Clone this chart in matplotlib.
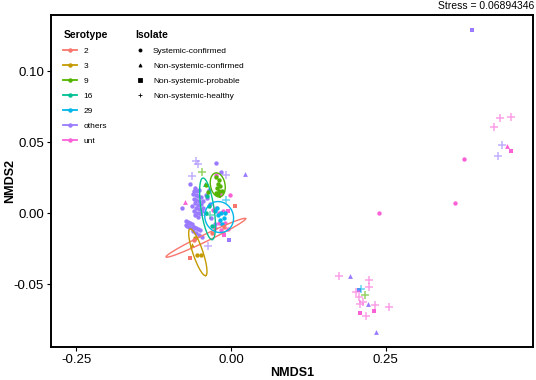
import numpy as np
import matplotlib.pyplot as plt
from matplotlib.lines import Line2D
from matplotlib.ticker import FormatStrFormatter

plt.rcParams['font.family'] = ['Liberation Sans', 'DejaVu Sans']
plt.rcParams['axes.unicode_minus'] = False

# isolate codes: C = Systemic-confirmed, T = Non-systemic-confirmed,
# P = Non-systemic-probable, H = Non-systemic-healthy
serotypes = ['2', '3', '9', '16', '29', 'others', 'unt']
isolates = ['Systemic-confirmed', 'Non-systemic-confirmed', 'Non-systemic-probable', 'Non-systemic-healthy']
stress = 0.06894346

pts_2 = [(0.0064, 0.0049, 'P'), (-0.0663, -0.0316, 'P'), (-0.059, -0.0185, 'C'),
         (-0.031, -0.0135, 'C'), (-0.012, -0.0095, 'C')]
pts_3 = [(-0.0555, -0.0293, 'C'), (-0.0485, -0.0293, 'C'), (-0.0629, -0.022, 'T'),
         (-0.0585, -0.0175, 'C')]
pts_9 = [(-0.0235, 0.0255, 'C'), (-0.019, 0.0235, 'C'), (-0.0215, 0.021, 'C'),
         (-0.017, 0.0195, 'C'), (-0.0225, 0.0175, 'C'), (-0.0185, 0.0155, 'C'),
         (-0.0145, 0.016, 'C'), (-0.0245, 0.0145, 'C'), (-0.0205, 0.0135, 'C'),
         (-0.041, 0.0202, 'C'), (-0.0474, 0.0293, 'H'), (-0.0369, 0.0148, 'C'),
         (0.217, -0.0574, 'H')]
pts_16 = [(-0.0415, 0.0205, 'T'), (-0.0385, 0.012, 'C'), (-0.036, 0.005, 'C'),
          (-0.034, -0.0015, 'H'), (-0.030, -0.009, 'C'), (-0.0395, 0.0005, 'C')]
pts_29 = [(-0.026, 0.0015, 'C'), (-0.021, -0.001, 'C'), (-0.016, 0.0005, 'C'),
          (-0.012, -0.003, 'C'), (-0.018, -0.0045, 'C'), (-0.009, 0.0, 'C'),
          (-0.0225, 0.004, 'C'), (-0.0087, 0.0096, 'H'), (-0.014, -0.0075, 'C'),
          (0.2097, -0.053, 'H')]
pts_others = [(-0.0243, 0.0354, 'C'), (-0.0167, 0.0291, 'C'), (-0.0664, 0.0209, 'C'),
              (-0.0798, 0.0038, 'C'), (-0.058, 0.018, 'C'), (-0.055, 0.016, 'C'),
              (-0.052, 0.0165, 'C'), (-0.057, 0.013, 'C'), (-0.053, 0.012, 'C'),
              (-0.060, 0.010, 'C'), (-0.056, 0.0095, 'C'), (-0.051, 0.009, 'C'),
              (-0.0585, 0.007, 'C'), (-0.054, 0.006, 'C'), (-0.049, 0.0065, 'C'),
              (-0.0565, 0.004, 'C'), (-0.052, 0.003, 'C'), (-0.060, 0.002, 'C'),
              (-0.0555, 0.0005, 'C'), (-0.0505, 0.0, 'C'), (-0.047, 0.002, 'C'),
              (-0.058, -0.0015, 'C'), (-0.053, -0.0025, 'C'), (-0.0615, 0.0135, 'C'),
              (-0.0625, 0.0055, 'C'), (-0.0595, 0.0155, 'C'), (-0.0485, 0.0115, 'C'),
              (-0.045, 0.0085, 'C'), (-0.0445, 0.004, 'C'), (-0.072, -0.0055, 'C'),
              (-0.069, -0.006, 'C'), (-0.066, -0.007, 'C'), (-0.063, -0.0075, 'C'),
              (-0.0705, -0.009, 'C'), (-0.067, -0.0095, 'C'), (-0.0635, -0.010, 'C'),
              (-0.060, -0.0095, 'C'), (-0.057, -0.0105, 'C'), (-0.054, -0.011, 'C'),
              (-0.0505, -0.012, 'C'), (-0.0725, -0.0085, 'C'), (-0.061, -0.0125, 'C'),
              (-0.0565, -0.0135, 'C'), (-0.0465, -0.0165, 'C'), (-0.0515, -0.015, 'C'),
              (-0.0039, -0.019, 'P'), (-0.0255, -0.0075, 'C'), (-0.032, -0.0035, 'C'),
              (-0.0335, 0.0065, 'C'), (-0.038, 0.0105, 'C'), (-0.0405, 0.013, 'C'),
              (-0.036, 0.0165, 'C'), (-0.0566, 0.0366, 'H'), (-0.0529, 0.035, 'H'),
              (-0.0626, 0.0265, 'H'), (-0.0085, 0.027, 'H'), (-0.0367, -0.0232, 'H'),
              (0.022, 0.0274, 'T'), (-0.048, 0.0005, 'T'),
              (0.389, 0.129, 'P'), (0.4376, 0.0478, 'H'), (0.4316, 0.0403, 'H'),
              (0.192, -0.0443, 'T'), (0.207, -0.0539, 'P'), (0.2208, -0.064, 'T'),
              (0.234, -0.0834, 'T')]
pts_unt = [(-0.0745, 0.0077, 'T'), (-0.0017, 0.0131, 'C'), (-0.0243, 0.0267, 'C'),
           (-0.0175, 0.0135, 'C'), (-0.024, 0.0035, 'C'), (-0.013, 0.002, 'C'),
           (-0.0045, 0.0015, 'P'), (-0.0185, -0.0065, 'C'), (-0.010, -0.0065, 'C'),
           (-0.005, -0.011, 'C'), (-0.0155, -0.012, 'C'), (-0.025, -0.010, 'C'),
           (-0.0115, -0.0155, 'P'), (-0.029, 0.0025, 'C'), (-0.020, 0.0005, 'C'),
           (0.4525, 0.0675, 'H'), (0.4354, 0.0668, 'H'), (0.426, 0.0605, 'H'),
           (0.447, 0.0474, 'T'), (0.453, 0.0441, 'P'), (0.3764, 0.038, 'C'),
           (0.362, 0.0073, 'C'), (0.2395, 0.0002, 'C'),
           (0.1744, -0.0443, 'H'), (0.224, -0.0469, 'H'), (0.223, -0.0518, 'H'),
           (0.203, -0.0551, 'H'), (0.207, -0.0588, 'H'), (0.213, -0.0621, 'H'),
           (0.2086, -0.0635, 'H'), (0.2329, -0.0645, 'H'), (0.2555, -0.0661, 'H'),
           (0.2092, -0.0699, 'P'), (0.2318, -0.0687, 'P'), (0.218, -0.072, 'H')]

# 95% ellipses: centre, two conjugate semi-axes
ell_center = {'2': (-0.0406, -0.0172), '3': (-0.0535, -0.0274), '9': (-0.0213, 0.020),
              '16': (-0.0378, 0.0032), '29': (-0.019, -0.0026)}
ell_u = {'2': (0.0643, 0.0135), '3': (0.0127, -0.0164), '9': (0.0036, -0.00845),
         '16': (0.0075, -0.02165), '29': (0.0032, -0.0109)}
ell_v = {'2': (0.00246, -0.00222), '3': (0.00767, 0.00112), '9': (0.0116, 0.00093),
         '16': (0.0104, 0.00067), '29': (0.0231, 0.0007)}

colors = {'2': '#F8766D', '3': '#C49A00', '9': '#53B400', '16': '#00C094',
          '29': '#00B6EB', 'others': '#9A7BFF', 'unt': '#FB61D7'}
groups = {'2': pts_2, '3': pts_3, '9': pts_9, '16': pts_16, '29': pts_29,
          'others': pts_others, 'unt': pts_unt}
marker_of = {'C': ('o', 10, 1.0), 'T': ('^', 12, 1.0), 'P': ('s', 10, 1.0), 'H': ('+', 30, 0.6)}

fig = plt.figure(figsize=(5.36, 3.80), dpi=100)
ax = fig.add_axes([0.095, 0.087, 0.899, 0.874])

for s in ['others', 'unt', '29', '16', '9', '3', '2']:
    pts = groups[s]
    for code, (m, size, a) in marker_of.items():
        xs = [p[0] for p in pts if p[2] == code]
        ys = [p[1] for p in pts if p[2] == code]
        if not xs:
            continue
        if m == '+':
            ax.scatter(xs, ys, marker=m, s=size, color=colors[s], alpha=a, linewidths=1.1)
        else:
            ax.scatter(xs, ys, marker=m, s=size, color=colors[s], alpha=a, linewidths=0)

t = np.linspace(0, 2 * np.pi, 200)
for s in ell_center:
    cx, cy = ell_center[s]
    ux, uy = ell_u[s]
    vx, vy = ell_v[s]
    ax.plot(cx + ux * np.cos(t) + vx * np.sin(t), cy + uy * np.cos(t) + vy * np.sin(t),
            color=colors[s], lw=1.0)

ax.set_xlim(-0.291, 0.488)
ax.set_ylim(-0.094, 0.1397)
ax.set_xticks([-0.25, 0.0, 0.25])
ax.set_yticks([-0.05, 0.0, 0.05, 0.10])
ax.yaxis.set_major_formatter(FormatStrFormatter('%.2f'))
ax.xaxis.set_major_formatter(FormatStrFormatter('%.2f'))
ax.tick_params(labelsize=9.5, length=3, width=0.8, colors='black', pad=2)
for sp in ax.spines.values():
    sp.set_linewidth(1.4)
ax.set_xlabel('NMDS1', fontsize=9, fontweight='bold', labelpad=1)
ax.set_ylabel('NMDS2', fontsize=9, fontweight='bold')
ax.yaxis.set_label_coords(-0.073, 0.5)

sero_handles = [Line2D([], [], color=colors[s], lw=1.3, marker='o', markersize=2.2) for s in serotypes]
leg1 = ax.legend(sero_handles, serotypes, title='Serotype', loc='upper left',
                 bbox_to_anchor=(0.01, 0.978), frameon=False, fontsize=6,
                 title_fontproperties={'weight': 'bold', 'size': 7.5},
                 handlelength=1.6, handletextpad=0.8, labelspacing=0.87, alignment='left')
ax.add_artist(leg1)
iso_handles = [Line2D([], [], color='black', lw=0, marker=m, markersize=2.2, markeredgewidth=0.6)
               for m in ['o', '^', 's', '+']]
ax.legend(iso_handles, isolates, title='Isolate', loc='upper left',
          bbox_to_anchor=(0.16, 0.978), frameon=False, fontsize=6,
          title_fontproperties={'weight': 'bold', 'size': 7.5},
          handlelength=1.0, handletextpad=1.1, labelspacing=0.87, alignment='left')

fig.text(0.997, 0.997, 'Stress = %.8f' % stress, ha='right', va='top', fontsize=7.5)

fig.savefig('out.png', dpi=100)
